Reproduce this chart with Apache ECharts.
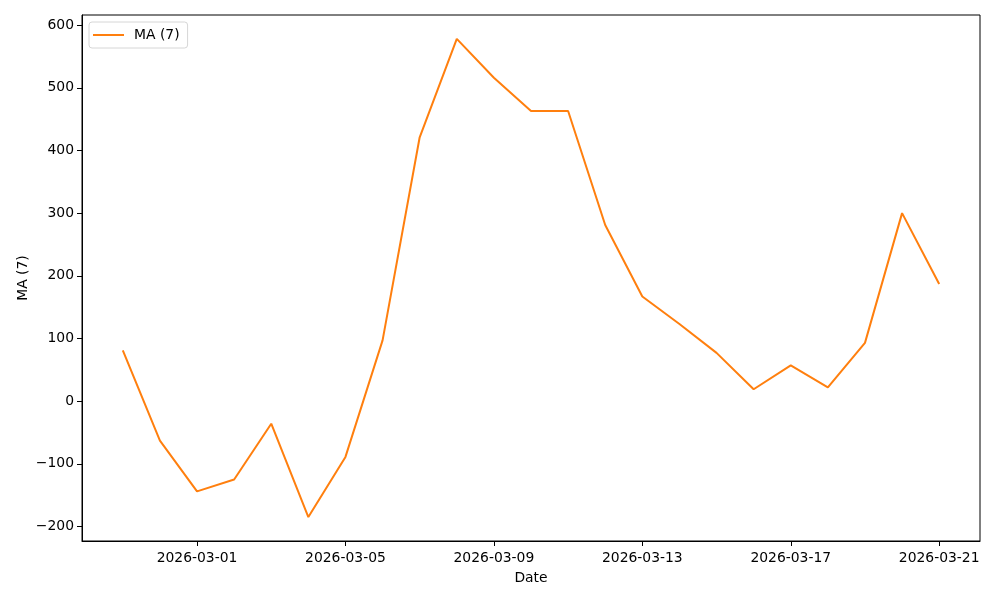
<!DOCTYPE html>
<html>
<head>
<meta charset="utf-8">
<script src="https://cdn.jsdelivr.net/npm/echarts@6/dist/echarts.min.js"></script>
<style>html,body{margin:0;padding:0;background:#fff}#chart{width:1000px;height:600px}</style>
</head>
<body>
<div id="chart"></div>
<script>
const dates = ['2026-02-27','2026-02-28','2026-03-01','2026-03-02','2026-03-03','2026-03-04','2026-03-05','2026-03-06','2026-03-07','2026-03-08','2026-03-09','2026-03-10','2026-03-11','2026-03-12','2026-03-13','2026-03-14','2026-03-15','2026-03-16','2026-03-17','2026-03-18','2026-03-19','2026-03-20','2026-03-21'];
const maValues = [81, -63, -144, -125, -36, -185, -89, 97, 421, 578, 516, 463, 463, 281, 167, 123, 77, 19, 57, 22, 93, 300, 187];
const xTickLabels = ['2026-03-01','2026-03-05','2026-03-09','2026-03-13','2026-03-17','2026-03-21'];
const yTicks = [-200, -100, 0, 100, 200, 300, 400, 500, 600];
const seriesName = 'MA (7)';

const toMs = s => Date.parse(s + 'T00:00:00Z');
const xs = dates.map(toMs);
const span = xs[xs.length - 1] - xs[0];
const xMin = xs[0] - span * 0.05;
const xMax = xs[xs.length - 1] + span * 0.05;
const yDataMin = Math.min(...maValues), yDataMax = Math.max(...maValues);
const ySpan = yDataMax - yDataMin;
const yMin = yDataMin - ySpan * 0.05;
const yMax = yDataMax + ySpan * 0.05;
const fmtDate = v => {
  const d = new Date(v);
  const p = n => String(n).padStart(2, '0');
  return d.getUTCFullYear() + '-' + p(d.getUTCMonth() + 1) + '-' + p(d.getUTCDate());
};
const fmtNum = v => v < 0 ? '\u2212' + Math.abs(v) : String(v);
const font = 'DejaVu Sans';
const fs = 13.9;

const chart = echarts.init(document.getElementById('chart'), null, {renderer: 'canvas'});
chart.setOption({
  animation: false,
  backgroundColor: '#ffffff',
  grid: {left: 82, right: 20, top: 15, bottom: 59, show: true, borderColor: '#000', borderWidth: 1, backgroundColor: 'transparent'},
  legend: {
    left: 89, top: 22, padding: [6, 8, 6, 4],
    borderColor: '#d6d6d6', borderWidth: 1, borderRadius: 3,
    backgroundColor: '#fff',
    itemWidth: 31, itemHeight: 2, itemGap: 10,
    icon: 'rect',
    textStyle: {fontFamily: font, fontSize: fs, color: '#000', padding: [0, 0, 0, 5]},
    data: [{name: seriesName}]
  },
  xAxis: {
    type: 'value', min: xMin, max: xMax,
    name: 'Date', nameLocation: 'middle', nameGap: 30, nameMoveOverlap: false,
    nameTextStyle: {fontFamily: font, fontSize: fs, color: '#000'},
    axisLine: {show: true, onZero: false, lineStyle: {color: '#000', width: 1}},
    axisTick: {show: true, length: 5, lineStyle: {color: '#000'}, customValues: xTickLabels.map(toMs)},
    axisLabel: {fontFamily: font, fontSize: fs, color: '#000', margin: 10, customValues: xTickLabels.map(toMs), formatter: fmtDate},
    splitLine: {show: false}
  },
  yAxis: {
    type: 'value', min: yMin, max: yMax,
    name: seriesName, nameLocation: 'middle', nameGap: 52, nameRotate: 90, nameMoveOverlap: false,
    nameTextStyle: {fontFamily: font, fontSize: fs, color: '#000'},
    axisLine: {show: true, onZero: false, lineStyle: {color: '#000', width: 1}},
    axisTick: {show: true, length: 5, lineStyle: {color: '#000'}, customValues: yTicks},
    axisLabel: {fontFamily: font, fontSize: fs, color: '#000', margin: 8, customValues: yTicks, formatter: fmtNum},
    splitLine: {show: false}
  },
  series: [{
    name: seriesName, type: 'line',
    data: xs.map((x, i) => [x, maValues[i]]),
    showSymbol: false, symbol: 'none',
    lineStyle: {color: '#ff7f0e', width: 2},
    itemStyle: {color: '#ff7f0e'}
  }]
});
</script>
</body>
</html>
